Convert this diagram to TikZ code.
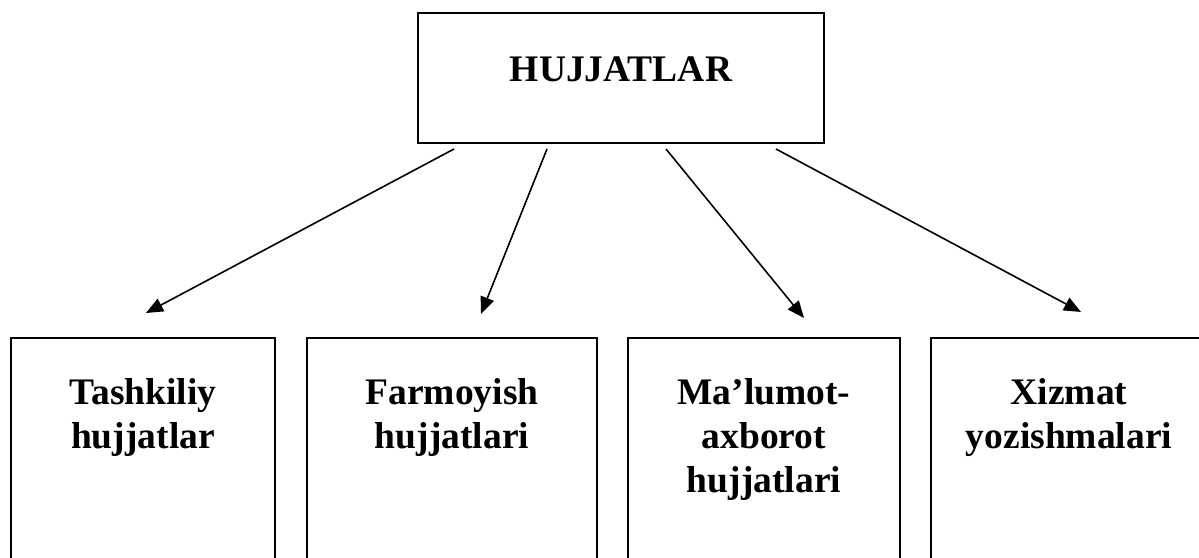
\documentclass[tikz,border=0pt]{standalone}
\usepackage{fontspec}
\setmainfont{Liberation Serif}
\usetikzlibrary{arrows.meta,calc}

\tikzset{
  box/.style={draw, line width=2pt, rectangle, inner sep=0pt},
  lbl/.style={anchor=north, inner sep=0pt, align=center,
    font=\fontsize{37.5}{44}\selectfont\bfseries},
  arr/.style={line width=1.6pt, -{Triangle[length=17pt,width=14pt]}}
}
\newcommand{\firstline}{\rule{0pt}{28pt}}

\begin{document}
\begin{tikzpicture}[x=1pt, y=-1pt]
  \path[use as bounding box, clip] (0,0) rectangle (1199,557);

  % top box
  \node[box, minimum width=406pt, minimum height=130pt] (top) at (621,78) {};
  \node[anchor=base, inner sep=0pt, font=\fontsize{37.5}{44}\selectfont\bfseries]
    (toplbl) at ($(top.north)+(0,69)$) {HUJJATLAR};

  % four document groups (running past the lower edge)
  \node[box, anchor=north, minimum width=264pt, minimum height=280pt] (b1) at (143,337) {};
  \node[box, anchor=north, minimum width=290pt, minimum height=280pt] (b2) at (452,337) {};
  \node[box, anchor=north, minimum width=272pt, minimum height=280pt] (b3) at (764,337) {};
  \node[box, anchor=north, minimum width=276pt, minimum height=280pt] (b4) at (1069,337) {};

  \node[lbl] (l1) at ($(b1.north)+(0,39)$) {\firstline Tashkiliy\\hujjatlar};
  \node[lbl] (l2) at ($(b2.north)+(0,39)$) {\firstline Farmoyish\\hujjatlari};
  \node[lbl] (l3) at ($(b3.north)+(0,39)$) {\firstline Ma’lumot-\\axborot\\hujjatlari};
  \node[lbl] (l4) at ($(b4.north)+(0,39)$) {\firstline Xizmat\\yozishmalari};

  % arrow ends
  \coordinate (s1) at ($(top.south west)+(37,5)$);
  \coordinate (s2) at ($(top.south west)+(130,5)$);
  \coordinate (s3) at ($(top.south west)+(249,5)$);
  \coordinate (s4) at ($(top.south west)+(359,5)$);
  \coordinate (e1) at ($(b1.north west)+(136,-24)$);
  \coordinate (e2) at ($(b2.north west)+(175,-23)$);
  \coordinate (e3) at ($(b3.north west)+(177,-19)$);
  \coordinate (e4) at ($(b4.north west)+(151,-25)$);

  \draw[arr] (s1) -- (e1);
  \draw[arr] (s2) -- (e2);
  \draw[arr] (s3) -- (e3);
  \draw[arr] (s4) -- (e4);
\end{tikzpicture}
\end{document}
